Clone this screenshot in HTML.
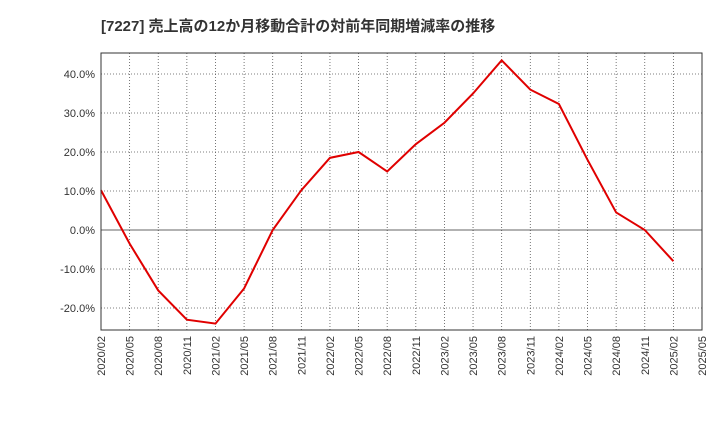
<!DOCTYPE html>
<html><head><meta charset="utf-8"><style>
body{margin:0;background:#fff;}
svg{display:block;font-family:"Liberation Sans","Noto Sans CJK JP",sans-serif;}
</style></head><body>
<svg width="720" height="440">
<text x="101" y="31" font-size="15" font-weight="bold" fill="#333">[7227]  売上高の12か月移動合計の対前年同期増減率の推移</text>
<g id="grid"></g>
<g id="axes"></g>
<polyline id="line" fill="none" stroke="#e00000" stroke-width="2"/>
<rect x="101" y="53" width="601" height="277" fill="none" stroke="#333"/>
</svg>
<script>
const categories=["2020/02","2020/05","2020/08","2020/11","2021/02","2021/05","2021/08","2021/11","2022/02","2022/05","2022/08","2022/11","2023/02","2023/05","2023/08","2023/11","2024/02","2024/05","2024/08","2024/11","2025/02","2025/05"];
const values=[10.2,-3.5,-15.5,-23,-24,-15,0,10.2,18.5,20,15,22,27.5,35,43.5,36,32.3,18,4.5,0,-8];
const yTicks=[-20,-10,0,10,20,30,40];
const ns="http://www.w3.org/2000/svg";
const x0=101,x1=702,yTop=53,yBot=330;
const xs=i=>x0+i*(x1-x0)/(categories.length-1);
const ys=v=>230-v*3.9;
const grid=document.getElementById('grid'),axes=document.getElementById('axes');
function mk(tag,attrs,parent){const e=document.createElementNS(ns,tag);for(const k in attrs)e.setAttribute(k,attrs[k]);parent.appendChild(e);return e;}
categories.forEach((c,i)=>{
  const x=xs(i);
  const l=mk('line',{x1:x,x2:x,y1:yTop,y2:yBot,stroke:'#555','stroke-width':0.8,'stroke-dasharray':'1,2'},grid);
  
  
  const t=mk('text',{x:0,y:0,'font-size':11,fill:'#333','text-anchor':'end',transform:`translate(${x+4},${yBot+6}) rotate(-90)`},axes);
  t.textContent=c;
  
  
});
yTicks.forEach(v=>{
  const y=ys(v);
  const l=mk('line',{x1:x0,x2:x1,y1:y,y2:y,stroke:v===0?'#333':'#555','stroke-width':0.8,'stroke-dasharray':v===0?'none':'1,2'},grid);
  
  
  const t=mk('text',{x:x0-6,y:y+4,'font-size':11,fill:'#333','text-anchor':'end'},axes);
  t.textContent=v.toFixed(1)+'%';
  
  
});
document.getElementById('line').setAttribute('points',values.map((v,i)=>xs(i)+','+ys(v)).join(' '));
</script>
</body></html>
